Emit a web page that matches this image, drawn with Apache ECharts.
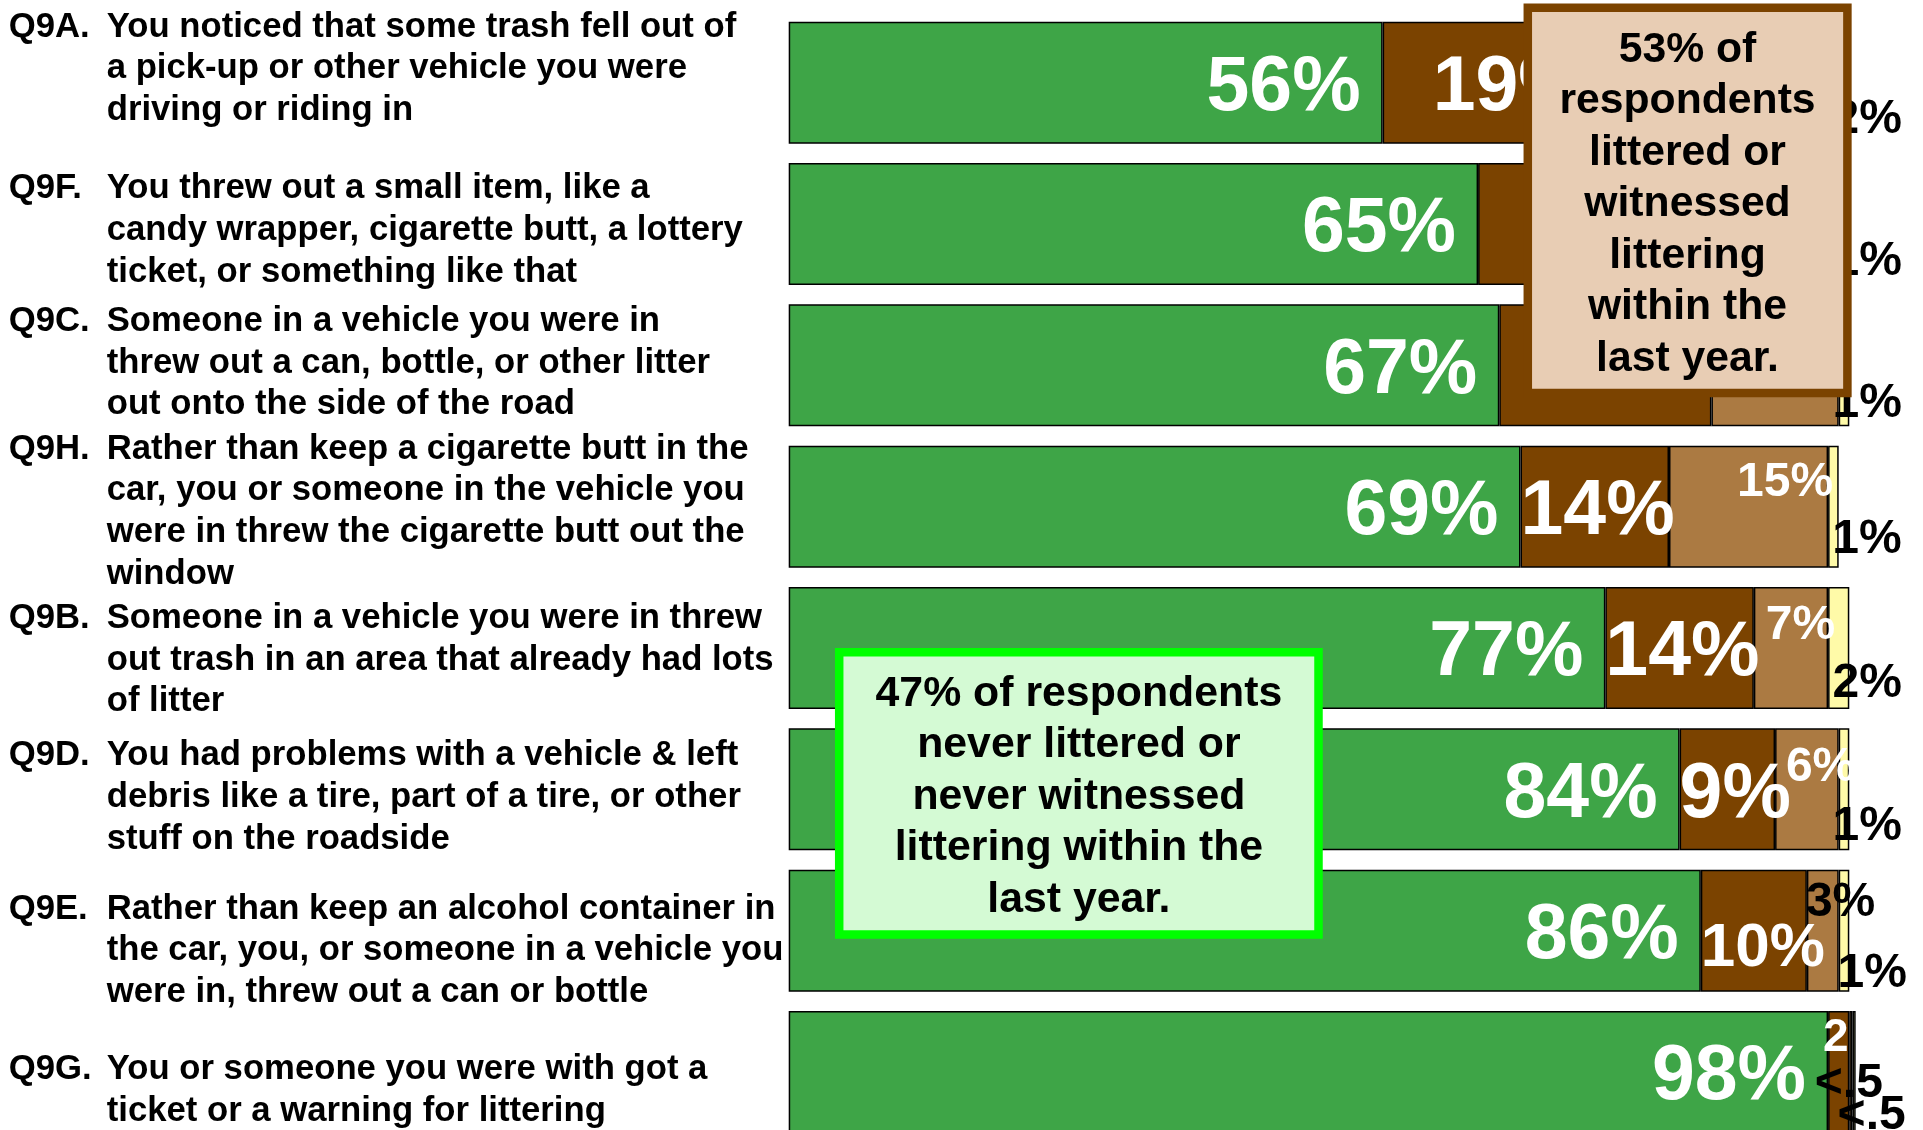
<!DOCTYPE html>
<html>
<head>
<meta charset="utf-8">
<script src="https://cdn.jsdelivr.net/npm/echarts@6/dist/echarts.min.js"></script>
<style>
  html, body { margin: 0; padding: 0; background: #ffffff; }
  #chart { width: 1923px; height: 1130px; }
</style>
</head>
<body>
<div id="chart"></div>
<script>
// Survey items, top to bottom
const codes = ['Q9A.', 'Q9F.', 'Q9C.', 'Q9H.', 'Q9B.', 'Q9D.', 'Q9E.', 'Q9G.'];
const questionLines = [
  ['You noticed that some trash fell out of', 'a pick-up or other vehicle you were', 'driving or riding in'],
  ['You threw out a small item, like a', 'candy wrapper, cigarette butt, a lottery', 'ticket, or something like that'],
  ['Someone in a vehicle you were in', 'threw out a can, bottle, or other litter', 'out onto the side of the road'],
  ['Rather than keep a cigarette butt in the', 'car, you or someone in the vehicle you', 'were in threw the cigarette butt out the', 'window'],
  ['Someone in a vehicle you were in threw', 'out trash in an area that already had lots', 'of litter'],
  ['You had problems with a vehicle & left', 'debris like a tire, part of a tire, or other', 'stuff on the roadside'],
  ['Rather than keep an alcohol container in', 'the car, you, or someone in a vehicle you', 'were in, threw out a can or bottle'],
  ['You or someone you were with got a', 'ticket or a warning for littering']
];

// Percent of respondents per answer band
const neverShare  = [56, 65, 67, 69, 77, 84, 86, 98];
const brownShare  = [19, 18, 20, 14, 14, 9, 10, 2];
const tanShare    = [23, 16, 12, 15, 7, 6, 3, 0.3];
const yellowShare = [2, 1, 1, 1, 2, 1, 1, 0.3];

// Call-out texts
const litteredNote = ['53% of', 'respondents', 'littered or', 'witnessed', 'littering', 'within the', 'last year.'];
const neverNote = ['47% of respondents', 'never littered or', 'never witnessed', 'littering within the', 'last year.'];

const FONT = '"Liberation Sans", Arial, Helvetica, sans-serif';
const pct = v => (v < 0.5 ? '<.5' : v + '%');

// Vertical nudges of the question blocks (positive = down)
const labelShift = [-14, 6.5, -2.2, 4.9, 12, 8, 20, 18.5];

// Per-row label placement tweaks
const brownTweaks = {
  0: { offset: [50, 6] },
  1: { offset: [42, 6] },
  2: { offset: [46, 6] },
  6: { fontSize: 62, offset: [0, 18.5] },
  7: { position: ['50%', 0], align: 'center', verticalAlign: 'middle', offset: [-3, 27.5], fontSize: 46, formatter: '2' }
};
const tanTweaks = {
  4: { offset: [7, 39] },
  5: { offset: [16.6, 39] },
  6: { offset: [36.6, 33.5], color: '#000' },
  7: { offset: [30.4, 73], color: '#000' }
};
const yellowTweaks = {
  0: { offset: [52.6, 37] },
  1: { offset: [52.6, 38] },
  2: { offset: [52.6, 38.5] },
  3: { offset: [63, 33] },
  4: { offset: [52.6, 36] },
  5: { offset: [52.6, 37] },
  6: { offset: [57.6, 43.5] },
  7: { offset: [50, 44] }
};

function withLabels(values, tweaks) {
  return values.map((v, i) => (tweaks && tweaks[i]) ? { value: v, label: tweaks[i] } : { value: v });
}

const bandLabel = (i) => {
  const lines = questionLines[i];
  return lines.map((ln, k) => (k === 0 ? '{q|' + codes[i] + '}' : '{q| }') + '{t|' + ln + '}').join('\n');
};

const yCategories = codes.map((c, i) => {
  const s = labelShift[i];
  return {
    value: c,
    textStyle: {
      align: 'left',
      verticalAlign: 'middle',
      padding: s < 0 ? [0, 0, -2 * s, 0] : [2 * s, 0, 0, 0]
    }
  };
});

const labelText = { fontFamily: FONT, fontWeight: 'bold', fontSize: 34.7, color: '#000', lineHeight: 41.7, align: 'left' };

const barStyle = (color) => ({ color: color, borderColor: '#000', borderWidth: 1.5 });

const chart = echarts.init(document.getElementById('chart'), null, { renderer: 'canvas' });

chart.setOption({
  animation: false,
  backgroundColor: '#ffffff',
  grid: { left: 788.7, right: 73.7, top: 12, height: 1130.7, containLabel: false, outerBoundsMode: 'none' },
  xAxis: { type: 'value', min: 0, max: 100, show: false },
  yAxis: {
    type: 'category',
    inverse: true,
    data: yCategories,
    axisLine: { show: false },
    axisTick: { show: false },
    splitLine: { show: false },
    axisLabel: {
      interval: 0,
      align: 'left',
      verticalAlign: 'middle',
      margin: 780,
      formatter: (value) => bandLabel(codes.indexOf(value)),
      rich: {
        q: Object.assign({ width: 98 }, labelText),
        t: Object.assign({}, labelText)
      }
    }
  },
  series: [
    {
      name: 'Never', type: 'bar', stack: 'all', clip: false,
      barCategoryGap: '13.7%',
      itemStyle: barStyle('#3ea547'),
      label: {
        show: true, position: 'insideRight', distance: 22, offset: [0, 6],
        fontFamily: FONT, fontWeight: 'bold', fontSize: 77, color: '#fff',
        formatter: (p) => pct(p.value)
      },
      data: withLabels(neverShare)
    },
    {
      name: 'Dark brown', type: 'bar', stack: 'all', clip: false,
      itemStyle: barStyle('#7b4300'),
      label: {
        show: true, position: 'insideLeft', distance: 0, offset: [0, 6],
        fontFamily: FONT, fontWeight: 'bold', fontSize: 77, color: '#fff',
        formatter: (p) => pct(p.value)
      },
      data: withLabels(brownShare, brownTweaks)
    },
    {
      name: 'Tan', type: 'bar', stack: 'all', clip: false,
      itemStyle: barStyle('#ab7a42'),
      label: {
        show: true, position: ['100%', 0], align: 'right', verticalAlign: 'middle', offset: [5, 37],
        fontFamily: FONT, fontWeight: 'bold', fontSize: 48, color: '#fff',
        formatter: (p) => pct(p.value)
      },
      data: withLabels(tanShare, tanTweaks)
    },
    {
      name: 'Yellow', type: 'bar', stack: 'all', clip: false,
      itemStyle: barStyle('#fffaa8'),
      label: {
        show: true, position: ['100%', '50%'], align: 'right', verticalAlign: 'middle', offset: [52.6, 37],
        fontFamily: FONT, fontWeight: 'bold', fontSize: 48, color: '#000',
        formatter: (p) => pct(p.value)
      },
      data: withLabels(yellowShare, yellowTweaks)
    }
  ],
  graphic: [
    {
      type: 'rect', z: 100,
      shape: { x: 1527.8, y: 7.7, width: 319.6, height: 385.2 },
      style: { fill: '#e8cdb4', stroke: '#7b4300', lineWidth: 8.5 }
    },
    {
      type: 'text', z: 101, x: 1687.5, y: 204.7,
      style: {
        text: litteredNote.join('\n'), align: 'center', verticalAlign: 'middle',
        fontFamily: FONT, fontWeight: 'bold', fontSize: 42.7, lineHeight: 51.5, fill: '#000'
      }
    },
    {
      type: 'rect', z: 100,
      shape: { x: 839.2, y: 652.2, width: 479.3, height: 282.3 },
      style: { fill: '#d4fad4', stroke: '#00ff00', lineWidth: 8.5 }
    },
    {
      type: 'text', z: 101, x: 1078.9, y: 797.1,
      style: {
        text: neverNote.join('\n'), align: 'center', verticalAlign: 'middle',
        fontFamily: FONT, fontWeight: 'bold', fontSize: 42.8, lineHeight: 51.5, fill: '#000'
      }
    }
  ]
});
</script>
</body>
</html>
